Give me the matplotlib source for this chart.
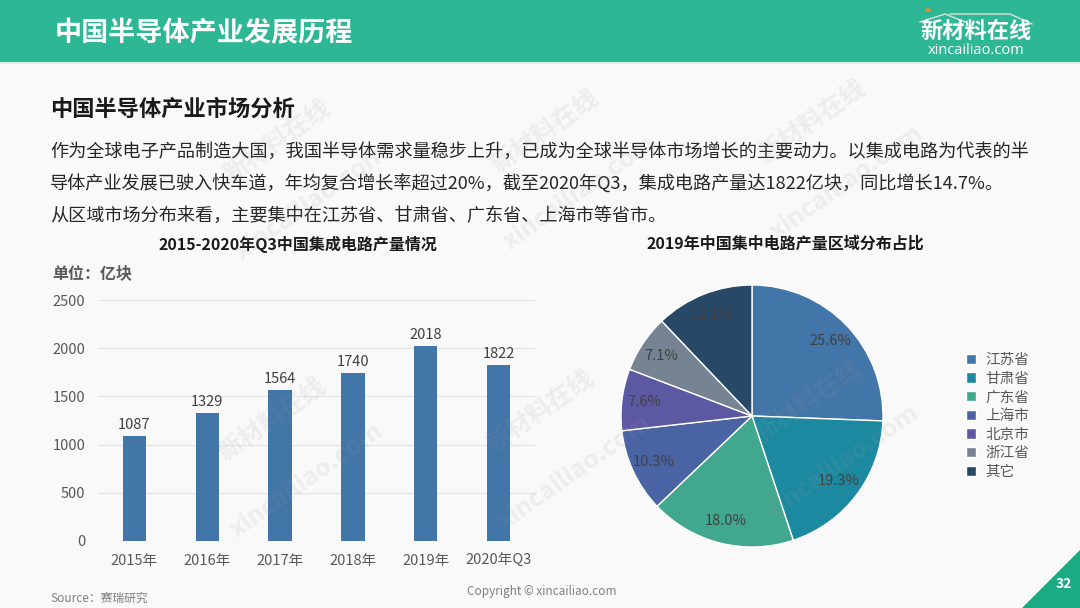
import matplotlib
matplotlib.use("Agg")
import matplotlib.pyplot as plt
from matplotlib.patches import Rectangle, Polygon

plt.rcParams['font.family'] = ['Noto Sans CJK SC', 'DejaVu Sans']

# 数据
years = ["2015年", "2016年", "2017年", "2018年", "2019年", "2020年Q3"]
output = [1087, 1329, 1564, 1740, 2018, 1822]
y_ticks = [0, 500, 1000, 1500, 2000, 2500]

regions = ["江苏省", "甘肃省", "广东省", "上海市", "北京市", "浙江省", "其它"]
shares = [25.6, 19.3, 18.0, 10.3, 7.6, 7.1, 12.1]

header_title = "中国半导体产业发展历程"
section_title = "中国半导体产业市场分析"
para_lines = [
    "作为全球电子产品制造大国，我国半导体需求量稳步上升，已成为全球半导体市场增长的主要动力。以集成电路为代表的半",
    "导体产业发展已驶入快车道，年均复合增长率超过20%，截至2020年Q3，集成电路产量达1822亿块，同比增长14.7%。",
    "从区域市场分布来看，主要集中在江苏省、甘肃省、广东省、上海市等省市。",
]
bar_title = "2015-2020年Q3中国集成电路产量情况"
pie_title = "2019年中国集中电路产量区域分布占比"

W, H = 1080, 608
bg = "#f9f9f9"
green = "#2db795"
bar_color = "#4275a8"
pie_colors = ["#4275a8", "#1c89a0", "#41a78f", "#4a63a3", "#5d58a2", "#758393", "#284868"]


def px(x, y):
    # 像素坐标 -> figure 坐标
    return x / W, 1 - y / H


fig = plt.figure(figsize=(W / 100, H / 100), dpi=100, facecolor=bg)

# 顶部标题栏
fig.patches.append(Rectangle((0, 1 - 62 / H), 1, 62 / H, transform=fig.transFigure,
                             facecolor=green, edgecolor="none"))
fig.patches.append(Rectangle((0, 1 - 64 / H), 1, 2 / H, transform=fig.transFigure,
                             facecolor="#d8efe8", edgecolor="none"))
fig.text(*px(55, 33), header_title, color="white", fontsize=19.5, fontweight="bold",
         va="center", ha="left")
# logo
fig.text(*px(976, 31), "新材料在线", color="white", fontsize=16, fontweight="bold",
         va="center", ha="center")
fig.text(*px(976, 50), "xincailiao.com", color="white", fontsize=10.5,
         va="center", ha="center", family=["Open Sans", "DejaVu Sans"])
fig.lines.append(plt.Line2D([x / W for x in (920, 945, 965)], [1 - y / H for y in (22, 14, 22)],
                            transform=fig.transFigure, color="#e0e0e0", lw=1))
fig.lines.append(plt.Line2D([x / W for x in (950, 1010, 1032)], [1 - y / H for y in (14, 14, 24)],
                            transform=fig.transFigure, color="#e0e0e0", lw=1))
fig.patches.append(plt.Circle(px(928, 10), 3 / W, transform=fig.transFigure,
                              facecolor="#f08a24", edgecolor="none"))

# 正文
fig.text(*px(50, 109), section_title, color="#1a1a1a", fontsize=16, fontweight="bold",
         va="center", ha="left")
for i, line in enumerate(para_lines):
    fig.text(*px(50, 152 + 32 * i), line, color="#262626", fontsize=13.1,
             va="center", ha="left")

fig.text(*px(298, 244), bar_title, color="#1a1a1a", fontsize=11.5, fontweight="bold",
         va="center", ha="center")
fig.text(*px(785, 244), pie_title, color="#1a1a1a", fontsize=11.5, fontweight="bold",
         va="center", ha="center")
fig.text(*px(52, 273), "单位：亿块", color="#595959", fontsize=11.5, fontweight="bold",
         va="center", ha="left")

# 柱状图
ax = fig.add_axes([98 / W, (H - 541) / H, 437 / W, 241 / H])
ax.set_facecolor("none")
xs = range(len(years))
ax.bar(xs, output, width=0.32, color=bar_color, zorder=3)
for x, v in zip(xs, output):
    ax.text(x, v + 45, str(v), ha="center", va="bottom", fontsize=10.5, color="#404040")
ax.set_xlim(-0.5, len(years) - 0.5)
ax.set_ylim(0, 2500)
ax.set_yticks(y_ticks)
ax.set_xticks(list(xs))
ax.set_xticklabels(years)
ax.tick_params(axis="both", length=0, labelsize=10.5, colors="#595959")
ax.tick_params(axis="y", pad=9)
ax.tick_params(axis="x", pad=9)
ax.grid(axis="y", color="#e3e3e3", lw=0.8, zorder=0)
for s in ax.spines.values():
    s.set_visible(False)

# 饼图
pax = fig.add_axes([621 / W, 61 / H, 262 / W, 262 / H])
wedges, texts = pax.pie(shares, colors=pie_colors, startangle=90, counterclock=False,
                        labels=[f"{s:.1f}%" for s in shares], labeldistance=0.83,
                        wedgeprops=dict(edgecolor="white", linewidth=1),
                        textprops=dict(fontsize=10.5, color="#404040"))
for t in texts:
    t.set_ha("center")
    t.set_va("center")
pax.set_xlim(-1, 1)
pax.set_ylim(-1, 1)
pax.set_aspect("equal")
fig.legend(wedges, regions, loc="center left", bbox_to_anchor=px(953, 416),
           frameon=False, fontsize=10.5, labelcolor="#595959", handlelength=0.7,
           handleheight=0.7, handletextpad=0.6, labelspacing=0.32)

# 水印
wm_pos = [(277, 142), (545, 132), (812, 122), (272, 420), (540, 412), (808, 402)]
for x, y in wm_pos:
    fig.text(*px(x, y), "新材料在线", color="#9a9a9a", alpha=0.13, fontsize=18,
             fontweight="bold", rotation=35, ha="center", va="center", zorder=10)
    fig.text(*px(x + 35, y + 60), "xincailiao.com", color="#9a9a9a", alpha=0.13,
             fontsize=18, fontweight="bold", rotation=35, ha="center", va="center", zorder=10)

# 底部
fig.text(*px(50, 598), "Source：赛瑞研究", color="#7f7f7f", fontsize=8.5, style="italic",
         va="center", ha="left")
fig.text(*px(542, 592), "Copyright © xincailiao.com", color="#7f7f7f", fontsize=8.5,
         va="center", ha="center")
fig.patches.append(Polygon([px(1022, 608), px(1080, 550), px(1080, 608)], closed=True,
                           transform=fig.transFigure, facecolor="#1aab82", edgecolor="none"))
fig.text(*px(1064, 584), "32", color="white", fontsize=10, fontweight="bold",
         va="center", ha="center")

fig.savefig("out.png", dpi=100, facecolor=bg)
